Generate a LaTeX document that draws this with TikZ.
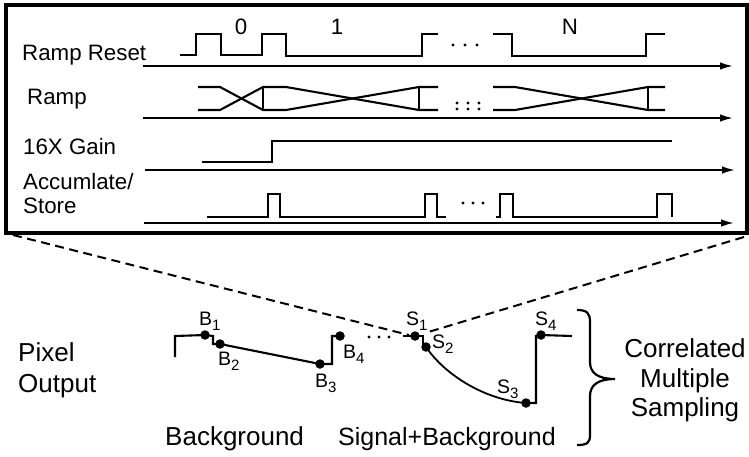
\documentclass[tikz,border=0pt]{standalone}
\usepackage{fontspec}
\setmainfont{Liberation Sans}
\usetikzlibrary{arrows.meta}
\newcommand\lblsub[2]{#1\raisebox{-5.5pt}{\fontsize{15}{15}\selectfont #2}}
\tikzset{
  sig/.style={line width=2.1pt, line join=miter},
  axisline/.style={line width=1.8pt, -{Latex[length=13pt,width=7.5pt]}},
  toplbl/.style={inner sep=0pt, anchor=base west, font=\fontsize{22.3}{26}\selectfont},
  botlbl/.style={inner sep=0pt, anchor=base west, font=\fontsize{26}{30}\selectfont},
  ptlbl/.style={inner sep=0pt, anchor=base west, font=\fontsize{19.5}{20}\selectfont},
  sdot/.style={circle, fill=black, inner sep=0pt, minimum size=9.5pt},
  tdot/.style={circle, fill=black, inner sep=0pt, minimum size=3.2pt},
  zoomline/.style={line width=2pt, dash pattern=on 9pt off 5.5pt},
  pix/.style={line width=2.1pt, line join=miter}
}
\begin{document}
\begin{tikzpicture}[x=1pt,y=-1pt]
\useasboundingbox (0,0) rectangle (749,456);
% frame
\draw[line width=4.2pt] (6,5) rectangle (747,233);
% labels top
\node[toplbl] (lrr) at (22,60) {Ramp Reset};
\node[toplbl] (lr) at (27,104) {Ramp};
\node[toplbl] (lg) at (23,154) {16X Gain};
\node[toplbl] (la) at (23,189) {Accumlate/};
\node[toplbl] (ls) at (23,213) {Store};
% axes
\coordinate (a1s) at (143,66); \coordinate (a1e) at (733,66);
\coordinate (a2s) at (143,118); \coordinate (a2e) at (733,118);
\coordinate (a3s) at (145,170); \coordinate (a3e) at (735,170);
\coordinate (a4s) at (144,223); \coordinate (a4e) at (734,223);
\draw[axisline] (a1s) -- (a1e);
\draw[axisline] (a2s) -- (a2e);
\draw[axisline] (a3s) -- (a3e);
\draw[axisline] (a4s) -- (a4e);
% row 1: ramp reset
\draw[sig] (180,55) -- (196,55) -- (196,34) -- (221,34) -- (221,55) -- (262,55) -- (262,34) -- (286,34) -- (286,56) -- (422,56) -- (422,34) -- (438,34);
\draw[sig] (493,34) -- (512,34) -- (512,56) -- (646,56) -- (646,34) -- (665,34);
\node[tdot] (d11) at (453,45) {}; \node[tdot] (d12) at (465,45) {}; \node[tdot] (d13) at (477,45) {};
\node[inner sep=0pt, font=\fontsize{22.3}{26}\selectfont] (n0) at (241,27) {0};
\node[inner sep=0pt, font=\fontsize{22.3}{26}\selectfont] (n1) at (337,27) {1};
\node[inner sep=0pt, font=\fontsize{22.3}{26}\selectfont] (nN) at (570,27) {N};
% row 2: ramp
\draw[sig] (198,87) -- (220,87) -- (263,110) -- (286,110) -- (419,87) -- (438,87);
\draw[sig] (198,110) -- (220,110) -- (263,87) -- (286,87) -- (419,110) -- (438,110);
\draw[sig] (263,87) -- (263,110);
\draw[sig] (419,87) -- (419,110);
\draw[sig] (493,87) -- (515,87) -- (648,110) -- (665,110);
\draw[sig] (493,110) -- (515,110) -- (648,87) -- (665,87);
\draw[sig] (648,87) -- (648,110);
\foreach \xx in {457,468,479} { \fill (\xx,103) circle (1.6pt); \fill (\xx,109) circle (1.6pt); }
% row 3: gain
\draw[sig] (202,162) -- (272,162) -- (272,141) -- (672,141);
% row 4: accumulate/store
\draw[sig] (207,217) -- (268,217) -- (268,194) -- (280,194) -- (280,217) -- (425,217) -- (425,194) -- (437,194) -- (437,217) -- (446,217);
\draw[sig] (496,217) -- (500,217) -- (500,194) -- (513,194) -- (513,217) -- (657,217) -- (657,194) -- (672,194) -- (672,217);
\node[tdot] (d41) at (463,203) {}; \node[tdot] (d42) at (473,203) {}; \node[tdot] (d43) at (483,203) {};
% pixel output points
\node[sdot] (B1) at (205,335) {};
\node[sdot] (B2) at (220,344) {};
\node[sdot] (B3) at (320,364) {};
\node[sdot] (B4) at (340,336) {};
\node[sdot] (S1) at (415,336) {};
\node[sdot] (S2) at (426,347) {};
\node[sdot] (S3) at (526,403) {};
\node[sdot] (S4) at (541,335) {};
% dashed zoom lines
\coordinate (zl) at (13,235);
\coordinate (zr) at (744,237);
\coordinate (zle) at (409,335);
\coordinate (zre) at (425,333);
\draw[zoomline] (zl) -- (zle);
\draw[zoomline] (zr) -- (zre);
% background waveform
\draw[pix] (175,357) -- (175,336) -- (B1.center) -- (213,336) -- (213,344) -- (B2.center) -- (B3.center) -- (332,364) -- (332,336) -- (B4.center);
\node[tdot] (p1) at (369,337) {}; \node[tdot] (p2) at (379,337) {}; \node[tdot] (p3) at (389,337) {};
% signal waveform
\draw[pix] (403,336) -- (S1.center) -- (423,336) -- (423,347) -- (S2.center);
\draw[line width=1.8pt] (S2.center) .. controls (445,375) and (485,400) .. (S3.center);
\draw[pix] (S3.center) -- (536,403) -- (536,336) -- (S4.center) -- (572,336);
% point labels
\node[ptlbl] (lB1) at (199,325) {\lblsub{B}{1}};
\node[ptlbl] (lB2) at (218,365) {\lblsub{B}{2}};
\node[ptlbl] (lB3) at (315,387) {\lblsub{B}{3}};
\node[ptlbl] (lB4) at (343,358) {\lblsub{B}{4}};
\node[ptlbl] (lS1) at (406,325) {\lblsub{S}{1}};
\node[ptlbl] (lS2) at (432,348) {\lblsub{S}{2}};
\node[ptlbl] (lS3) at (497,393) {\lblsub{S}{3}};
\node[ptlbl] (lS4) at (535,325) {\lblsub{S}{4}};
% bottom labels
\node[botlbl] (px) at (18,361) {Pixel};
\node[botlbl] (po) at (18,392) {Output};
\node[botlbl] (bg) at (165,445) {Background};
\node[botlbl, font=\fontsize{25}{30}\selectfont] (sb) at (338,445) {Signal+Background};
% brace
\draw[line width=2.2pt] (577,310) .. controls (587,310) and (590,313) .. (590,322) -- (590,362) .. controls (590,373) and (598,379) .. (615,379) .. controls (598,379) and (590,385) .. (590,396) -- (590,435) .. controls (590,443) and (587,445) .. (577,445);
\node[inner sep=0pt, anchor=base, font=\fontsize{26}{30}\selectfont] (c1) at (685,357) {Correlated};
\node[inner sep=0pt, anchor=base, font=\fontsize{26}{30}\selectfont] (c2) at (685,387) {Multiple};
\node[inner sep=0pt, anchor=base, font=\fontsize{26}{30}\selectfont] (c3) at (685,416) {Sampling};
\end{tikzpicture}
\end{document}
